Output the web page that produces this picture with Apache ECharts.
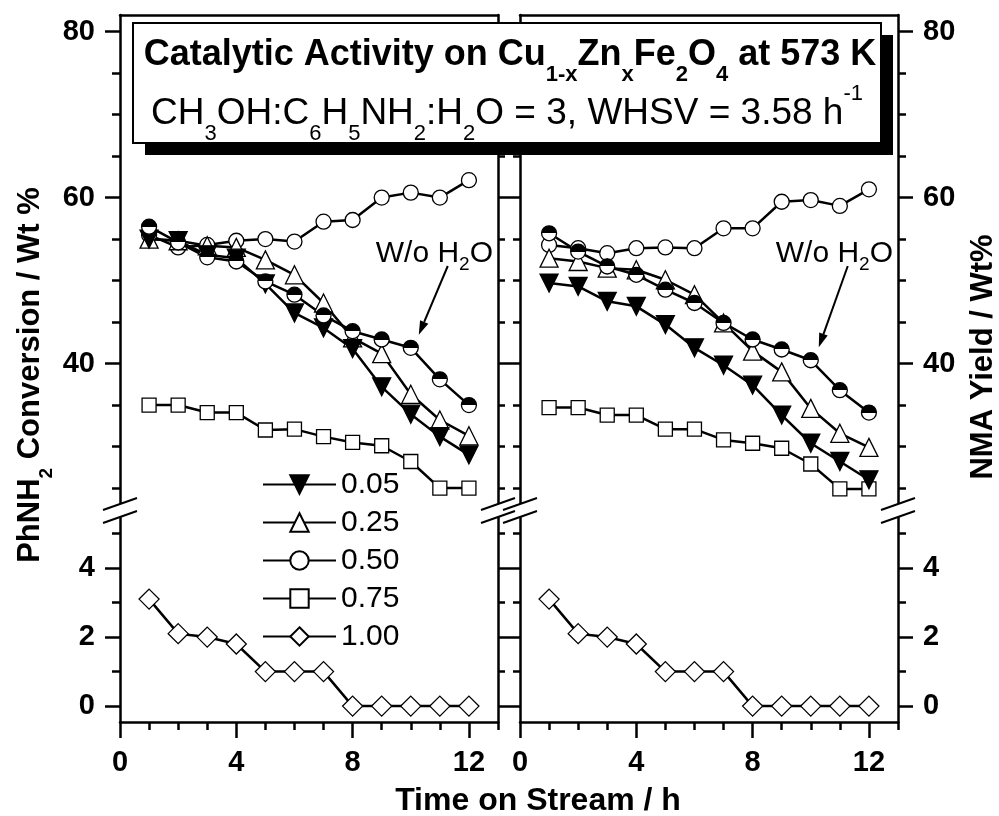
<!DOCTYPE html>
<html>
<head>
<meta charset="utf-8">
<script src="https://cdn.jsdelivr.net/npm/echarts@6/dist/echarts.min.js"></script>
<style>
html, body { margin: 0; padding: 0; background: #fff; }
#chart { width: 999px; height: 816px; }
</style>
</head>
<body>
<div id="chart"></div>
<script>
// time on stream (h)
var hours = [1, 2, 3, 4, 5, 6, 7, 8, 9, 10, 11, 12];
var xTicks = [0, 1, 2, 3, 4, 5, 6, 7, 8, 9, 10, 11, 12, 13];
var xLabels = [0, 4, 8, 12];
var upperTicks = [25, 30, 35, 40, 45, 50, 55, 60, 65, 70, 75, 80];
var upperLabels = [40, 60, 80];
var lowerTicks = [0, 1, 2, 3, 4, 5];
var lowerLabels = [0, 2, 4];

// PhNH2 conversion / wt% (left panel), x = Zn content
var conv005 = [55.0, 54.8, 53.1, 52.7, 49.6, 46.1, 44.3, 41.8, 37.2, 33.9, 31.2, 29.0];
var conv025 = [55.0, 54.8, 54.2, 54.0, 52.5, 50.7, 47.3, 43.1, 41.2, 36.3, 33.2, 31.3];
var conv050 = [55.5, 54.0, 54.3, 54.8, 55.0, 54.7, 57.1, 57.3, 60.0, 60.6, 60.0, 62.1];
var conv075 = [35.0, 35.0, 34.1, 34.1, 32.0, 32.1, 31.2, 30.5, 30.1, 28.2, 25.0, 25.0];
var conv100 = [3.1, 2.1, 2.0, 1.8, 1.0, 1.0, 1.0, 0, 0, 0, 0, 0];
var convWo = [56.5, 54.6, 52.8, 52.3, 49.9, 48.3, 45.8, 43.9, 42.9, 41.9, 38.1, 35.0];

// NMA yield / wt% (right panel)
var yield005 = [49.7, 49.3, 47.5, 46.9, 44.7, 41.9, 39.8, 37.4, 33.8, 30.4, 28.2, 26.0];
var yield025 = [52.7, 52.3, 51.5, 51.3, 50.1, 48.3, 44.9, 41.5, 39.0, 34.6, 31.6, 29.9];
var yield050 = [54.3, 53.9, 53.3, 53.9, 54.0, 53.9, 56.3, 56.3, 59.5, 59.7, 59.0, 61.0];
var yield075 = [34.7, 34.7, 33.8, 33.8, 32.1, 32.1, 30.8, 30.4, 29.8, 27.9, 24.9, 24.9];
var yield100 = [3.1, 2.1, 2.0, 1.8, 1.0, 1.0, 1.0, 0, 0, 0, 0, 0];
var yieldWo = [55.7, 53.5, 51.7, 50.7, 48.9, 47.3, 44.9, 42.9, 41.7, 40.4, 36.8, 34.1];

var legendNames = ['0.05', '0.25', '0.50', '0.75', '1.00'];

var FONT = '"Liberation Sans", Arial, sans-serif';
var LW = 2.5;

var chart = echarts.init(document.getElementById('chart'));

// 0 = left upper, 1 = left lower, 2 = right upper, 3 = right lower
var grids = [
    {left: 120, top: 15, width: 378, height: 493},
    {left: 120, top: 508, width: 378, height: 214},
    {left: 520, top: 15, width: 378, height: 493},
    {left: 520, top: 508, width: 378, height: 214}
];
var upperRange = [22.6, 82];
var lowerRange = [-0.46, 5.74];

var xAxes = [], yAxes = [], xIdx = [], yIdx = [];
var axLine = {show: true, onZero: false, lineStyle: {color: '#000', width: LW}};
var labelFont = {color: '#000', fontFamily: FONT, fontWeight: 'bold', fontSize: 29};

function addX(g, bottom) {
    xIdx[g] = xAxes.length;
    if (!bottom) {
        xAxes.push({type: 'value', gridIndex: g, position: 'top', min: 0, max: 13,
            axisLine: axLine, axisTick: {show: false}, axisLabel: {show: false}, splitLine: {show: false}});
        return;
    }
    xAxes.push({type: 'value', gridIndex: g, position: 'bottom', min: 0, max: 13,
        axisLine: axLine,
        axisTick: {show: true, customValues: xTicks, length: 8, lineStyle: {color: '#000', width: LW}},
        axisLabel: {show: false}, splitLine: {show: false}});
    xAxes.push({type: 'value', gridIndex: g, position: 'bottom', min: 0, max: 13,
        axisLine: {show: false, onZero: false},
        axisTick: {show: true, customValues: xLabels, length: 16, lineStyle: {color: '#000', width: LW}},
        axisLabel: Object.assign({show: true, customValues: xLabels, margin: 26}, labelFont),
        splitLine: {show: false}});
}

function addY(g, side, range, minorVals, majorVals, labels, majorLen, minorLen) {
    if (yIdx[g] === undefined) yIdx[g] = yAxes.length;
    yAxes.push({type: 'value', gridIndex: g, position: side, min: range[0], max: range[1],
        axisLine: axLine,
        axisTick: {show: true, customValues: minorVals, length: minorLen, lineStyle: {color: '#000', width: LW}},
        axisLabel: {show: false}, splitLine: {show: false}});
    yAxes.push({type: 'value', gridIndex: g, position: side, min: range[0], max: range[1],
        axisLine: {show: false, onZero: false},
        axisTick: {show: true, customValues: majorVals, length: majorLen, lineStyle: {color: '#000', width: LW}},
        axisLabel: Object.assign({show: labels, customValues: majorVals, margin: 25}, labelFont),
        splitLine: {show: false}});
}

addX(0, false); addX(1, true); addX(2, false); addX(3, true);
addY(0, 'left', upperRange, upperTicks, upperLabels, true, 15, 8);
addY(0, 'right', upperRange, upperTicks, upperLabels, false, 11, 7);
addY(1, 'left', lowerRange, lowerTicks, lowerLabels, true, 15, 8);
addY(1, 'right', lowerRange, lowerTicks, lowerLabels, false, 11, 7);
addY(2, 'left', upperRange, upperTicks, upperLabels, false, 11, 7);
addY(2, 'right', upperRange, upperTicks, upperLabels, true, 15, 8);
addY(3, 'left', lowerRange, lowerTicks, lowerLabels, false, 11, 7);
addY(3, 'right', lowerRange, lowerTicks, lowerLabels, true, 15, 8);

var halfFill = new echarts.graphic.LinearGradient(0, 0, 0, 1, [
    {offset: 0, color: '#000'}, {offset: 0.5, color: '#000'},
    {offset: 0.5, color: '#fff'}, {offset: 1, color: '#fff'}
]);

var markers = {
    '0.05': {symbol: 'triangle', symbolSize: 18, symbolRotate: 180, fill: '#000'},
    '0.25': {symbol: 'triangle', symbolSize: 18, symbolRotate: 0, fill: '#fff'},
    '0.50': {symbol: 'circle', symbolSize: 15, symbolRotate: 0, fill: '#fff'},
    '0.75': {symbol: 'rect', symbolSize: 14, symbolRotate: 0, fill: '#fff'},
    '1.00': {symbol: 'diamond', symbolSize: 20, symbolRotate: 0, fill: '#fff'},
    'W/o H2O': {symbol: 'circle', symbolSize: 15, symbolRotate: 0, fill: halfFill}
};

function mk(name, g, values) {
    var m = markers[name];
    return {
        name: name, type: 'line',
        xAxisIndex: xIdx[g], yAxisIndex: yIdx[g],
        data: hours.map(function (h, i) { return [h, values[i]]; }),
        symbol: m.symbol, symbolSize: m.symbolSize, symbolRotate: m.symbolRotate,
        showAllSymbol: true,
        lineStyle: {color: '#000', width: LW},
        itemStyle: {color: m.fill, borderColor: '#000', borderWidth: 1.3},
        emphasis: {disabled: true},
        silent: true
    };
}

var series = [
    mk('0.75', 0, conv075), mk('0.50', 0, conv050), mk('0.25', 0, conv025),
    mk('0.05', 0, conv005), mk('W/o H2O', 0, convWo), mk('1.00', 1, conv100),
    mk('0.75', 2, yield075), mk('0.50', 2, yield050), mk('0.25', 2, yield025),
    mk('0.05', 2, yield005), mk('W/o H2O', 2, yieldWo), mk('1.00', 3, yield100)
];

chart.setOption({
    animation: false,
    backgroundColor: '#fff',
    grid: grids,
    xAxis: xAxes,
    yAxis: yAxes,
    legend: {
        data: legendNames, orient: 'vertical', left: 257, top: 463,
        itemWidth: 73, itemHeight: 23, itemGap: 5, selectedMode: false,
        textStyle: {color: '#000', fontFamily: FONT, fontSize: 30, lineHeight: 33}
    },
    series: series
});

// annotations, title box, break marks, axis names
var subMain = {fontFamily: FONT, fontSize: 36, fontWeight: 'bold', color: '#000', lineHeight: 62, verticalAlign: 'middle'};
var subSmall = {fontFamily: FONT, fontSize: 22, fontWeight: 'bold', color: '#000', lineHeight: 22, verticalAlign: 'bottom'};
var nMain = {fontFamily: FONT, fontSize: 37, color: '#000', lineHeight: 62, verticalAlign: 'middle'};
var nSub = {fontFamily: FONT, fontSize: 22, color: '#000', lineHeight: 22, verticalAlign: 'bottom'};
var nSup = {fontFamily: FONT, fontSize: 22, color: '#000', lineHeight: 42, verticalAlign: 'top'};

var graphics = [];
graphics.push({type: 'rect', z: 100, shape: {x: 145, y: 35, width: 748, height: 120}, style: {fill: '#000'}});
graphics.push({type: 'rect', z: 101, shape: {x: 133, y: 23, width: 748, height: 120},
    style: {fill: '#fff', stroke: '#000', lineWidth: 2}});
graphics.push({type: 'text', z: 102, x: 510, y: 55, style: {
    text: '{b|Catalytic Activity on Cu}{s|1-x}{b|Zn}{s|x}{b|Fe}{s|2}{b|O}{s|4}{b| at 573 K}',
    align: 'center', verticalAlign: 'middle', rich: {b: subMain, s: subSmall}}});
graphics.push({type: 'text', z: 102, x: 507, y: 114, style: {
    text: '{n|CH}{s|3}{n|OH:C}{s|6}{n|H}{s|5}{n|NH}{s|2}{n|:H}{s|2}{n|O = 3, WHSV = 3.58 h}{p|-1}',
    align: 'center', verticalAlign: 'middle', rich: {n: nMain, s: nSub, p: nSup}}});

// axis names
graphics.push({type: 'text', x: 538, y: 801, style: {text: 'Time on Stream / h', align: 'center', verticalAlign: 'middle',
    fontFamily: FONT, fontSize: 32, fontWeight: 'bold', fill: '#000'}});
graphics.push({type: 'text', x: 30, y: 375, rotation: Math.PI / 2, style: {
    text: '{m|PhNH}{s|2}{m| Conversion / Wt %}', align: 'center', verticalAlign: 'middle',
    rich: {m: {fontFamily: FONT, fontSize: 31, fontWeight: 'bold', color: '#000', lineHeight: 52, verticalAlign: 'middle'},
           s: {fontFamily: FONT, fontSize: 19, fontWeight: 'bold', color: '#000', lineHeight: 18, verticalAlign: 'bottom'}}}});
graphics.push({type: 'text', x: 983, y: 357, rotation: Math.PI / 2, style: {
    text: 'NMA Yield / Wt%', align: 'center', verticalAlign: 'middle',
    fontFamily: FONT, fontSize: 31, fontWeight: 'bold', fill: '#000'}});

// axis break marks
function breakMark(x, y) {
    graphics.push({type: 'polygon', z: 50, shape: {points: [[x - 16, y - 6 + 6], [x + 16, y - 6 - 6], [x + 16, y + 7 - 6], [x - 16, y + 7 + 6]]},
        style: {fill: '#fff'}});
    graphics.push({type: 'line', z: 51, shape: {x1: x - 17, y1: y - 6 + 6, x2: x + 17, y2: y - 6 - 6}, style: {stroke: '#000', lineWidth: 2}});
    graphics.push({type: 'line', z: 51, shape: {x1: x - 17, y1: y + 7 + 6, x2: x + 17, y2: y + 7 - 6}, style: {stroke: '#000', lineWidth: 2}});
}
breakMark(120, 510); breakMark(498, 510); breakMark(520, 510); breakMark(898, 510);

// "W/o H2O" labels with arrows pointing at the 10 h point
function woLabel(g, values) {
    var p = chart.convertToPixel({xAxisIndex: xIdx[g], yAxisIndex: yIdx[g]}, [hours[9], values[9]]);
    var tx = p[0] - 35, ty = 234;
    graphics.push({type: 'text', x: tx, y: ty, style: {
        text: '{m|W/o H}{s|2}{m|O}', align: 'left', verticalAlign: 'top',
        rich: {m: {fontFamily: FONT, fontSize: 30, color: '#000', lineHeight: 40, verticalAlign: 'middle'},
               s: {fontFamily: FONT, fontSize: 19, color: '#000', lineHeight: 16, verticalAlign: 'bottom'}}}});
    var tip = [p[0] + 8, p[1] - 13];
    var st = [tx + 72, ty + 32];
    var dx = tip[0] - st[0], dy = tip[1] - st[1], len = Math.sqrt(dx * dx + dy * dy);
    var ux = dx / len, uy = dy / len;
    var bx = tip[0] - ux * 14, by = tip[1] - uy * 14;
    graphics.push({type: 'line', shape: {x1: st[0], y1: st[1], x2: bx, y2: by}, style: {stroke: '#000', lineWidth: 2}});
    graphics.push({type: 'polygon', shape: {points: [tip, [bx - uy * 4.5, by + ux * 4.5], [bx + uy * 4.5, by - ux * 4.5]]},
        style: {fill: '#000'}});
}
woLabel(0, convWo);
woLabel(2, yieldWo);

chart.setOption({graphic: graphics});
</script>
</body>
</html>
